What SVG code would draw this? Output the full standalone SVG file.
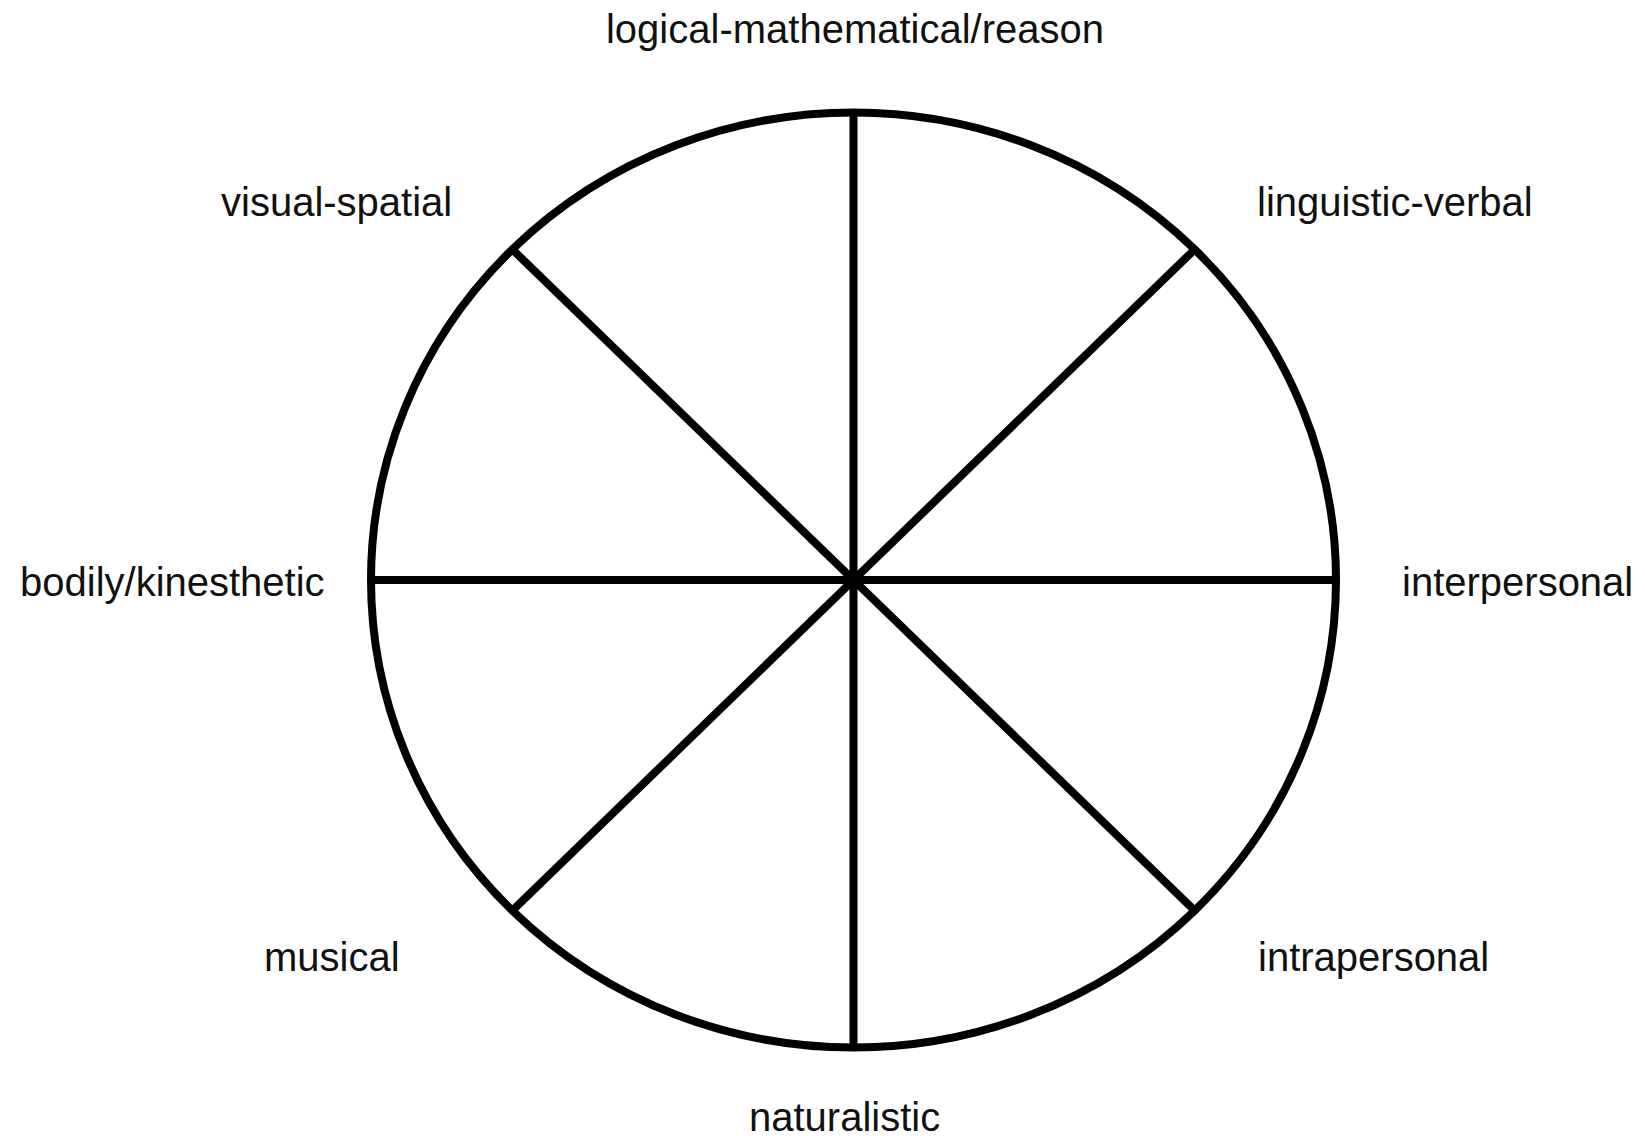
<svg xmlns="http://www.w3.org/2000/svg" width="1645" height="1141" viewBox="0 0 1645 1141">
<style>
.lbl{font-family:"Liberation Sans",Arial,sans-serif;font-size:40px;fill:#111;}
.ln{stroke:#000;stroke-width:8;fill:none;}
</style>
<rect width="1645" height="1141" fill="#fff"/>
<g id="wheel">
<ellipse class="ln" cx="853.5" cy="580" rx="482.5" ry="467.5"/>
</g>
<g id="connectors">
<line class="ln" x1="853.5" y1="112.5" x2="853.5" y2="1047.5"/>
<line class="ln" x1="371" y1="580" x2="1336" y2="580"/>
<line class="ln" x1="512.3" y1="249.4" x2="1194.7" y2="910.6"/>
<line class="ln" x1="1194.7" y1="249.4" x2="512.3" y2="910.6"/>
</g>
<g id="n-logical"><text class="lbl" x="855" y="43" text-anchor="middle">logical-mathematical/reason</text></g>
<g id="n-visual"><text class="lbl" x="221" y="216">visual-spatial</text></g>
<g id="n-linguistic"><text class="lbl" x="1257" y="216">linguistic-verbal</text></g>
<g id="n-bodily"><text class="lbl" x="20" y="596">bodily/kinesthetic</text></g>
<g id="n-interpersonal"><text class="lbl" x="1402" y="596">interpersonal</text></g>
<g id="n-musical"><text class="lbl" x="264" y="971">musical</text></g>
<g id="n-intrapersonal"><text class="lbl" x="1258" y="971">intrapersonal</text></g>
<g id="n-naturalistic"><text class="lbl" x="749" y="1131">naturalistic</text></g>
</svg>
